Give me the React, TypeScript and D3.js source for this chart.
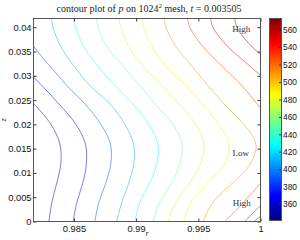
import React, { useEffect, useRef } from 'react'
import { select, scaleLinear, axisBottom, axisLeft, axisTop, axisRight, line, curveCatmullRom } from 'd3'

// z rows (bottom to top) at which the contour positions were read
const zRows = [0, 0.004, 0.008, 0.012, 0.016, 0.02, 0.024, 0.028, 0.032, 0.036, 0.04, 0.0418]

// contour levels of p
const levels = [350, 370, 390, 410, 430, 450, 470, 490, 510, 530, 550, 570]

// r position of each contour level at every z row (values past the box get clipped)
const p350 = [0.98299, 0.98323, 0.98363, 0.98395, 0.98387, 0.98315, 0.98186, 0.98025, 0.97865, 0.97704, 0.97583, 0.97543]
const p370 = [0.98494, 0.98524, 0.98572, 0.98600, 0.98592, 0.98516, 0.98387, 0.98242, 0.98090, 0.97945, 0.97840, 0.97808]
const p390 = [0.98668, 0.98701, 0.98757, 0.98797, 0.98793, 0.98717, 0.98596, 0.98443, 0.98307, 0.98178, 0.98082, 0.98066]
const p410 = [0.98843, 0.98886, 0.98942, 0.98982, 0.98978, 0.98910, 0.98797, 0.98628, 0.98500, 0.98395, 0.98331, 0.98320]
const p430 = [0.98990, 0.99030, 0.99111, 0.99167, 0.99175, 0.99103, 0.98982, 0.98829, 0.98693, 0.98580, 0.98516, 0.98500]
const p450 = [0.99137, 0.99191, 0.99287, 0.99352, 0.99368, 0.99296, 0.99159, 0.99030, 0.98894, 0.98765, 0.98693, 0.98682]
const p470 = [0.99258, 0.99320, 0.99432, 0.99521, 0.99545, 0.99480, 0.99352, 0.99207, 0.99054, 0.98942, 0.98877, 0.98864]
const p490 = [0.99384, 0.99440, 0.99577, 0.99714, 0.99746, 0.99665, 0.99537, 0.99400, 0.99239, 0.99127, 0.99062, 0.99052]
const p510 = [0.99537, 0.99617, 0.99778, 0.99922, 0.99963, 0.99866, 0.99714, 0.99577, 0.99448, 0.99320, 0.99239, 0.99226]
const p530 = [0.99714, 0.99866, 1.00003, 1.00140, 1.00196, 1.00115, 0.99979, 0.99850, 0.99689, 0.99537, 0.99432, 0.99414]
const p550 = [0.99874, 1.00027, 1.00196, 1.00357, 1.00397, 1.00357, 1.00236, 1.00091, 0.99915, 0.99738, 0.99617, 0.99599]
const p570 = [0.99947, 1.00140, 1.00316, 1.00477, 1.00517, 1.00477, 1.00397, 1.00276, 1.00115, 0.99931, 0.99810, 0.99794]
const contourR = [p350, p370, p390, p410, p430, p450, p470, p490, p510, p530, p550, p570]

// extremum labels
const markText = ['High', 'Low', 'High']
const markR = [0.99846, 0.99842, 0.9985]
const markZ = [0.0397, 0.0141, 0.0038]

const xTicks = [0.985, 0.99, 0.995, 1]
const yTicks = [0, 0.005, 0.01, 0.015, 0.02, 0.025, 0.03, 0.035, 0.04]
const cTicks = [360, 380, 400, 420, 440, 460, 480, 500, 520, 540, 560]
const cRange = [341, 573]

const left = 33.5
const right = 260.5
const top = 18.5
const bottom = 221.5

const jet = (t: number) => {
    const c = (v: number) => Math.round(255 * Math.max(0, Math.min(1, v)))
    return `rgb(${c(1.5 - Math.abs(4 * t - 3))},${c(1.5 - Math.abs(4 * t - 2))},${c(1.5 - Math.abs(4 * t - 1))})`
}

const fmt = (d: any) => String(+(+d).toFixed(3))

const drawChart = (svgRef: React.MutableRefObject<any>) => {
    if (svgRef.current === null || svgRef.current === undefined) {
        return
    }
    const svg = select(svgRef.current)
    svg.selectAll('*').remove()

    const x = scaleLinear().domain([0.98175, 1]).range([left, right])
    const y = scaleLinear().domain([0, 0.0418]).range([bottom, top])
    const c = scaleLinear().domain(cRange).range([220.5, 18.5])
    const colorOf = (v: number) => jet((v - cRange[0]) / (cRange[1] - cRange[0]))

    const defs = svg.append('defs')
    defs.append('clipPath').attr('id', 'plot_clip')
        .append('rect')
        .attr('x', left).attr('y', top)
        .attr('width', right - left).attr('height', bottom - top)

    const grad = defs.append('linearGradient').attr('id', 'jet_grad')
        .attr('x1', 0).attr('y1', 1).attr('x2', 0).attr('y2', 0)
    for (let i = 0; i <= 32; i++) {
        grad.append('stop').attr('offset', i / 32).attr('stop-color', jet(i / 32))
    }

    // contour lines
    const lineGenerator = line().curve(curveCatmullRom.alpha(0.5))
    const g = svg.append('g').attr('clip-path', 'url(#plot_clip)')
    contourR.forEach((rs, i) => {
        const pts: [number, number][] = zRows.map((z, j) => [x(rs[j]), y(z)] as [number, number])
        pts.sort((a, b) => a[1] - b[1])
        g.append('path')
            .attr('d', lineGenerator(pts))
            .attr('fill', 'none')
            .attr('stroke', colorOf(levels[i]))
            .attr('stroke-width', 0.6)
            .attr('stroke-opacity', 0.85)
    })

    // High / Low labels
    markText.forEach((t, i) => {
        svg.append('text')
            .attr('x', x(markR[i]))
            .attr('y', y(markZ[i]))
            .attr('text-anchor', 'middle')
            .attr('dominant-baseline', 'central')
            .attr('font-family', 'Liberation Serif, serif')
            .attr('font-size', 9)
            .attr('fill', '#333')
            .text(t)
    })

    // axes
    const axisStyle = (sel: any) => {
        sel.select('.domain').remove()
        sel.selectAll('line').attr('stroke', '#333')
        sel.selectAll('text').attr('fill', '#111')
        sel.attr('font-family', 'Liberation Sans, Arial, sans-serif').attr('font-size', 9.3)
    }
    svg.append('g')
        .attr('transform', `translate(0,${bottom})`)
        .call(axisBottom(x).tickValues(xTicks).tickSizeInner(-3).tickSizeOuter(0).tickPadding(3.6).tickFormat(fmt))
        .call(axisStyle)
    svg.append('g')
        .attr('transform', `translate(0,${top})`)
        .call(axisTop(x).tickValues(xTicks).tickSizeInner(-3).tickSizeOuter(0).tickFormat(() => ''))
        .call(axisStyle)
    svg.append('g')
        .attr('transform', `translate(${left},0)`)
        .call(axisLeft(y).tickValues(yTicks).tickSizeInner(-3).tickSizeOuter(0).tickPadding(2).tickFormat(fmt))
        .call(axisStyle)
    svg.append('g')
        .attr('transform', `translate(${right},0)`)
        .call(axisRight(y).tickValues(yTicks).tickSizeInner(-3).tickSizeOuter(0).tickFormat(() => ''))
        .call(axisStyle)

    svg.append('rect')
        .attr('x', left).attr('y', top)
        .attr('width', right - left).attr('height', bottom - top)
        .attr('fill', 'none').attr('stroke', '#555').attr('stroke-width', 1)

    // colorbar
    const cbLeft = 269.5
    const cbRight = 281.5
    svg.append('rect')
        .attr('x', cbLeft).attr('y', c(cRange[1]))
        .attr('width', cbRight - cbLeft).attr('height', c(cRange[0]) - c(cRange[1]))
        .attr('fill', 'url(#jet_grad)').attr('stroke', '#555').attr('stroke-width', 1)
    svg.append('g')
        .attr('transform', `translate(${cbRight},0)`)
        .call(axisRight(c).tickValues(cTicks).tickSizeInner(-2.5).tickSizeOuter(0).tickPadding(1.5))
        .call(axisStyle)
        .attr('font-size', 8.4)

    // title and axis labels
    const title = svg.append('text')
        .attr('x', 149).attr('y', 11.5)
        .attr('text-anchor', 'middle')
        .attr('font-family', 'Liberation Serif, serif')
        .attr('font-size', 10)
        .attr('fill', '#222')
    title.append('tspan').text('contour plot of ')
    title.append('tspan').attr('font-style', 'italic').text('p')
    title.append('tspan').text(' on 1024')
    title.append('tspan').attr('font-size', 7).attr('dy', -4).text('2')
    title.append('tspan').attr('dy', 4).text(' mesh, ')
    title.append('tspan').attr('font-style', 'italic').text('t')
    title.append('tspan').text(' = 0.003505')

    svg.append('text')
        .attr('x', (left + right) / 2).attr('y', 236)
        .attr('text-anchor', 'middle')
        .attr('font-family', 'Liberation Serif, serif')
        .attr('font-style', 'italic')
        .attr('font-size', 8)
        .attr('fill', '#222')
        .text('r')
    svg.append('text')
        .attr('transform', `translate(5.5,${(top + bottom) / 2}) rotate(-90)`)
        .attr('text-anchor', 'middle')
        .attr('font-family', 'Liberation Serif, serif')
        .attr('font-style', 'italic')
        .attr('font-size', 8)
        .attr('fill', '#222')
        .text('z')
}

export default function App() {
    const svgRef = useRef<SVGSVGElement>(null)
    useEffect(() => {
        drawChart(svgRef)
    }, [])
    return (
        <svg ref={svgRef} width={300} height={240}
            style={{ position: 'absolute', left: 0, top: 0, background: '#fff' }} />
    )
}
